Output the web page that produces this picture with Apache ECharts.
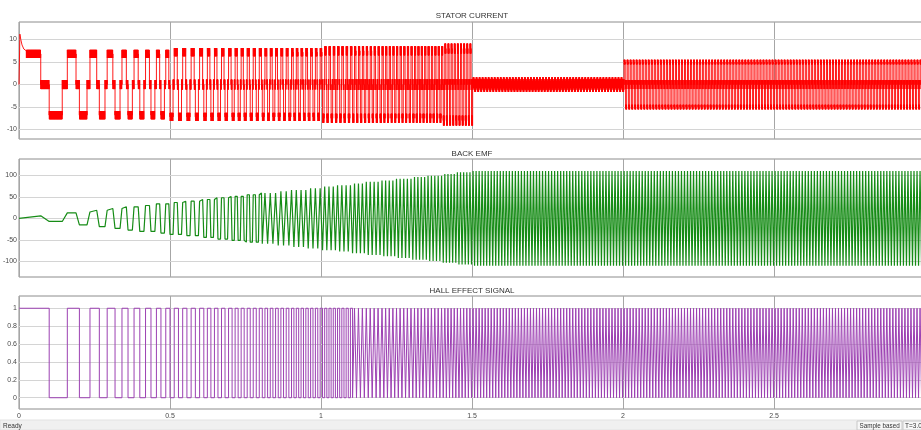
<!DOCTYPE html>
<html>
<head>
<meta charset="utf-8">
<script src="https://cdn.jsdelivr.net/npm/echarts@6/dist/echarts.min.js"></script>
<style>
  html, body { margin: 0; padding: 0; background: #fff; }
  #chart { width: 921px; height: 430px; }
</style>
</head>
<body>
<div id="chart"></div>
<script>
// ---- Simulated BLDC start-up, 0 .. 3 s ----

// Hall sensor switching instants during the start-up (s)
const hallEdgesStart = [0.1, 0.16, 0.2, 0.235, 0.266, 0.292, 0.318, 0.341, 0.361, 0.381,
                        0.4, 0.419, 0.437, 0.455, 0.47, 0.486, 0.5];
// Hall half-period (s) in force from each breakpoint time onward
const halfPeriodFrom = [0.5, 0.6, 0.7, 0.8, 0.9, 1.0, 1.1, 1.2, 1.3, 1.4, 1.5];
const halfPeriod     = [0.014, 0.0117, 0.0100, 0.0088, 0.0079, 0.0071, 0.0065, 0.0060, 0.0056, 0.0052, 0.0050];
const endTime = 3.0;

// Back-EMF plateau height (V), one reading per 0.05 s window, constant after 1.5 s
const bemfWindow = 0.05;
const bemfPeak = [0, 6, 7, 13, 15, 19, 23, 27, 30, 34, 37, 40, 44, 48, 51, 55,
                  59, 63, 66, 70, 74, 77, 81, 85, 88, 92, 96, 99, 103, 107, 110];

// Stator current: conduction level and PWM ripple half-width (A) from each breakpoint
const currentFrom   = [0, 0.5, 1.0, 1.4, 1.5, 2.0];
const currentLevel  = [6.8, 7.2, 7.5, 8.0, 0.4, 5.0];
const currentRipple = [0.9, 0.9, 1.0, 1.1, 1.2, 0.5];
const offRipple     = [1.0, 1.1, 1.2, 1.2, 1.2, 1.0];
// Inrush at switch-on
const inrushT = [0, 0.003, 0.006, 0.010, 0.016, 0.024];
const inrushI = [0, 11.2, 10.0, 8.8, 7.9, 7.5];
// Share of each hall half-period during which the phase conducts
const conductionShare = 0.72;
const pwmStep = 0.0005;

// Axis ticks
const timeTicks    = [0, 0.5, 1, 1.5, 2, 2.5, 3];
const currentTicks = [-10, -5, 0, 5, 10];
const bemfTicks    = [-100, -50, 0, 50, 100];
const hallTicks    = [0, 0.2, 0.4, 0.6, 0.8, 1];

// ---- build the traces ----
function stepLookup(froms, values, t) {
  let v = values[0];
  for (let i = 0; i < froms.length; i++) if (t >= froms[i] - 1e-9) v = values[i];
  return v;
}
function bemfAt(t) {
  const i = Math.min(bemfPeak.length - 1, Math.floor(t / bemfWindow + 1e-9));
  return bemfPeak[i];
}

const edges = [0].concat(hallEdgesStart);
while (edges[edges.length - 1] < endTime) {
  const t = edges[edges.length - 1];
  edges.push(Math.min(endTime, t + stepLookup(halfPeriodFrom, halfPeriod, t)));
}

const hallData = [];
const bemfData = [[0, 0]];
const currentData = [];

for (let k = 0; k < edges.length - 1; k++) {
  const a = edges[k], b = edges[k + 1], h = b - a;
  const s = k % 2 === 0 ? 1 : -1;
  const c = a + conductionShare * h;

  // hall square wave
  const lvl = s > 0 ? 1 : 0;
  hallData.push([a, lvl], [b, lvl]);

  // trapezoidal back-EMF
  bemfData.push([c, s * bemfAt(c)]);
  bemfData.push([b, -s * bemfAt(b)]);

  // stator current with PWM ripple
  const L = stepLookup(currentFrom, currentLevel, a);
  const r = stepLookup(currentFrom, currentRipple, a);
  const r0 = stepLookup(currentFrom, offRipple, a);
  let t0 = a;
  if (k === 0) {
    for (let i = 0; i < inrushT.length; i++) currentData.push([inrushT[i], inrushI[i]]);
    t0 = inrushT[inrushT.length - 1];
  } else {
    currentData.push([a, 0], [a, s * L]);
  }
  let n = 0;
  for (let t = t0; t < c; t += pwmStep, n++) currentData.push([t, s * L + (n % 2 ? -r : r)]);
  currentData.push([c, s * L], [c, 0]);
  n = 0;
  for (let t = c; t < b; t += pwmStep, n++) currentData.push([t, n % 2 ? -r0 : r0]);
}

// ---- chart ----
const chart = echarts.init(document.getElementById('chart'), null, { renderer: 'canvas' });

const FONT = 'Liberation Sans, Arial, sans-serif';

const grids = [
  { left: 19, top: 22,  width: 906, height: 117 },
  { left: 19, top: 159, width: 906, height: 118 },
  { left: 19, top: 296, width: 906, height: 113 }
].map(g => Object.assign(g, {
  show: true, borderColor: '#8c8c8c', borderWidth: 1, backgroundColor: '#fff',
  containLabel: false, outerBoundsMode: 'none'
}));

const labelStyle = { color: '#4a4a4a', fontSize: 7, fontFamily: FONT };

const xAxes = [0, 1, 2].map(i => ({
  type: 'value', gridIndex: i, min: 0, max: 3, interval: 0.5,
  axisLine: { show: false },
  axisTick: { show: false },
  axisLabel: Object.assign({ show: i === 2, margin: 4, showMaxLabel: false }, labelStyle),
  splitLine: { show: true, lineStyle: { color: '#a6a6a6', width: 1 } }
}));

function yAxis(i, min, max, ticks) {
  return {
    type: 'value', gridIndex: i, min: min, max: max,
    axisLine: { show: false },
    axisTick: { show: true, inside: true, length: 8, customValues: ticks, lineStyle: { color: '#8a8a8a' } },
    axisLabel: Object.assign({ margin: 2, customValues: ticks }, labelStyle),
    splitLine: { show: false }
  };
}
const yAxes = [
  yAxis(0, -12.1, 13.9, currentTicks),
  yAxis(1, -136, 138, bemfTicks),
  yAxis(2, -0.126, 1.137, hallTicks)
];

function gridLines(ticks) {
  return {
    silent: true, z: 1, symbol: ['none', 'none'], animation: false,
    label: { show: false },
    lineStyle: { color: '#d4d4d4', width: 1, type: 'solid' },
    emphasis: { disabled: true },
    data: ticks.map(v => ({ yAxis: v }))
  };
}

function trace(i, data, color, width, ticks) {
  return {
    type: 'line', xAxisIndex: i, yAxisIndex: i, data: data,
    showSymbol: false, symbol: 'none', sampling: false, z: 3,
    lineStyle: { color: color, width: width },
    emphasis: { disabled: true },
    markLine: gridLines(ticks)
  };
}

function titleText(text, y) {
  return { type: 'text', x: 472, y: y, silent: true,
    style: { text: text, fill: '#333', fontSize: 8, fontFamily: FONT, align: 'center', verticalAlign: 'middle' } };
}

chart.setOption({
  animation: false,
  backgroundColor: '#fff',
  grid: grids,
  xAxis: xAxes,
  yAxis: yAxes,
  series: [
    trace(0, currentData, '#ff0000', 0.9, currentTicks),
    trace(1, bemfData, '#168c16', 1.2, bemfTicks),
    trace(2, hallData, '#9c40b2', 1, hallTicks)
  ],
  graphic: [
    titleText('STATOR CURRENT', 15.5),
    titleText('BACK EMF', 153.5),
    titleText('HALL EFFECT SIGNAL', 290.5),
    { type: 'rect', shape: { x: 0, y: 420, width: 921, height: 10 }, style: { fill: '#f0f0f0', stroke: '#e2e2e2' }, silent: true },
    { type: 'text', x: 3, y: 426, silent: true, style: { text: 'Ready', fill: '#333', fontSize: 6.5, fontFamily: FONT, verticalAlign: 'middle' } },
    { type: 'rect', shape: { x: 857, y: 421, width: 45, height: 9 }, style: { fill: '#f7f7f7', stroke: '#c8c8c8' }, silent: true },
    { type: 'text', x: 859.5, y: 426, silent: true, style: { text: 'Sample based', fill: '#333', fontSize: 6.3, fontFamily: FONT, verticalAlign: 'middle' } },
    { type: 'rect', shape: { x: 903, y: 421, width: 30, height: 9 }, style: { fill: '#f7f7f7', stroke: '#c8c8c8' }, silent: true },
    { type: 'text', x: 905, y: 426, silent: true, style: { text: 'T=3.000', fill: '#333', fontSize: 6.5, fontFamily: FONT, verticalAlign: 'middle' } }
  ]
});
</script>
</body>
</html>
